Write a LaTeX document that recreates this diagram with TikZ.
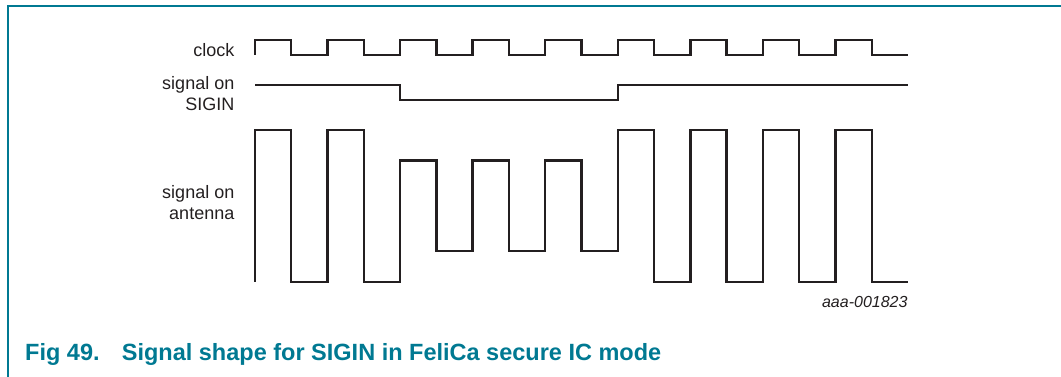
\documentclass[tikz,border=0pt]{standalone}
\usepackage{fontspec}
\setmainfont{Liberation Sans}
\definecolor{nxpteal}{RGB}{0,121,146}
\definecolor{wavegray}{RGB}{35,31,32}
\tikzset{
	wave/.style = {wavegray, line width = 2.4pt, line join = miter},
	frame/.style = {nxpteal, line width = 2pt},
	siglabel/.style = {inner sep = 0, align = right, anchor = base east, font = \fontsize{18}{21}\selectfont, text = wavegray},
	caption/.style = {inner sep = 0, anchor = base west, text = nxpteal, font = \fontsize{23.5}{28}\selectfont\bfseries}
}
\begin{document}
\begin{tikzpicture}[x = 1pt, y = -1pt]
\useasboundingbox (0,0) rectangle (1061,377);
\def\halfT{36.28}

\draw[frame] (8,377) -- (8,6) -- (1061,6);

% clock
\node[siglabel] (clk) at (234.5,56.5) {clock};
\draw[wave] (255,55) \foreach \i in {0,...,8}
	{
		-- ++(0,-15) -- ++(\halfT,0) -- ++(0,15) -- ++(\halfT,0)
	};

% SIGIN
\node[siglabel] (sigin) at (234.5,111) {signal on\\SIGIN};
\draw[wave] (255,85) -- ({255+4*\halfT},85) -- ({255+4*\halfT},100)
	-- ({255+10*\halfT},100) -- ({255+10*\halfT},85) -- ({255+18*\halfT},85);

% antenna
\node[siglabel] (ant) at (234.5,219.5) {signal on\\antenna};
\draw[wave] (255,281.7) \foreach \hi/\lo [count = \i from 0] in
	{130/281.7, 130/281.7, 160.7/250.7, 160.7/250.7, 160.7/250.7,
	 130/281.7, 130/281.7, 130/281.7, 130/281.7}
	{
		-- ({255+2*\i*\halfT},\hi) -- ++(\halfT,0) -- ({255+(2*\i+1)*\halfT},\lo) -- ++(\halfT,0)
	};

\node[inner sep = 0, anchor = base east, text = wavegray, font = \fontsize{16}{19}\selectfont\itshape] (id) at (907.7,307) {aaa-001823};

\node[caption] (figno) at (25,360.7) {Fig 49.};
\node[caption] (figtitle) at (121.7,360.7) {Signal shape for SIGIN in FeliCa secure IC mode};
\end{tikzpicture}
\end{document}
